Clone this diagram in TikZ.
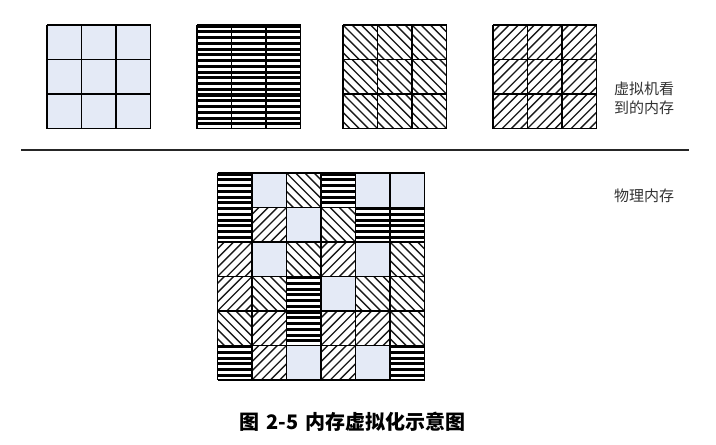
\documentclass[tikz,border=0pt]{standalone}
\usepackage{fontspec}
\newfontfamily\cjk{Noto Sans CJK SC}
\definecolor{cellblue}{RGB}{228,234,246}
\definecolor{labelgray}{RGB}{50,50,50}
\tikzset{
  gridline/.style={line width=1.6pt, black},
  hatch/.style={line width=1.35pt, black!90},
  sepline/.style={line width=1.6pt, black!85},
  label/.style={font=\cjk\fontsize{15}{19}\selectfont, text=labelgray, align=center, inner sep=0pt},
  caption/.style={font=\cjk\bfseries\fontsize{20}{22}\selectfont, inner sep=0pt}
}
\def\cs{34.5}
\newcommand\cellB[2]{\fill[cellblue] (#1,#2) rectangle ++(\cs,\cs);}
\newcommand\cellH[2]{%
  \begin{scope}
    \clip (#1,#2) rectangle ++(\cs,\cs);
    \foreach \k in {0,...,6}{\fill[black] (#1,{#2+\k*5.75-0.5}) rectangle ++(\cs,3.1);}
  \end{scope}}
\newcommand\cellD[2]{%
  \begin{scope}
    \clip (#1,#2) rectangle ++(\cs,\cs);
    \foreach \k in {-5,...,5}{\draw[hatch] ({#1+\k*9.2},#2) -- ++(\cs,\cs);}
  \end{scope}}
\newcommand\cellU[2]{%
  \begin{scope}
    \clip (#1,#2) rectangle ++(\cs,\cs);
    \foreach \k in {-5,...,5}{\draw[hatch] ({#1+\k*9.2},{#2+\cs}) -- ++(\cs,-\cs);}
  \end{scope}}
\newcommand\gridlines[4]{% x0, y0, ncols, nrows
  \foreach \i in {0,...,#3}{\draw[gridline] ({#1+\i*\cs},#2) -- ++(0,{#4*\cs});}
  \foreach \j in {0,...,#4}{\draw[gridline] (#1,{#2+\j*\cs}) -- ++({#3*\cs},0);}
}
\begin{document}
\begin{tikzpicture}[x=1pt,y=-1pt]
\useasboundingbox (0,0) rectangle (716,445);
% top grids
\foreach \t/\x in {B/47,H/197,D/343,U/493}{
  \foreach \i in {0,1,2}{
    \foreach \j in {0,1,2}{
      \csname cell\t\endcsname{\x+\i*\cs}{25+\j*\cs}
    }
  }
  \gridlines{\x}{25}{3}{3}
}
% separator
\coordinate (sepL) at (21,150);
\coordinate (sepR) at (689,150);
\draw[sepline] (sepL) -- (sepR);
% bottom grid
\foreach \row [count=\j from 0] in {{H,B,D,H,B,B},{H,U,B,D,H,H},{U,B,D,U,B,D},{U,D,H,B,D,D},{D,U,H,U,U,D},{H,U,B,U,B,H}}{
  \foreach \t [count=\i from 0] in \row {
    \csname cell\t\endcsname{217.5+\i*\cs}{173+\j*\cs}
  }
}
\gridlines{217.5}{173}{6}{6}
% labels
\node[label] (vmmem) at (644,98) {虚拟机看\\到的内存};
\node[label] (phymem) at (644,196) {物理内存};
\node[caption] (cap) at (352.5,422) {图\hspace{7pt}2-5\hspace{7pt}内存虚拟化示意图};
\end{tikzpicture}
\end{document}
